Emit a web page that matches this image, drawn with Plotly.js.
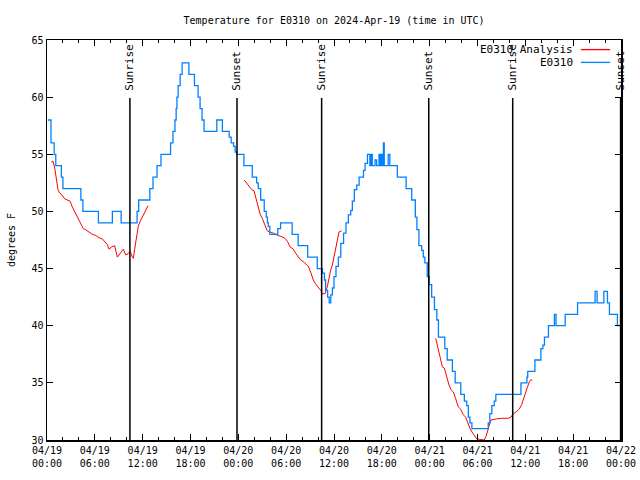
<!DOCTYPE html>
<html>
<head>
<meta charset="utf-8">
<script src="https://cdn.plot.ly/plotly-3.0.1.min.js"></script>
<style>html,body{margin:0;padding:0;background:#fff;}#chart{width:640px;height:480px;}</style>
</head>
<body>
<div id="chart"></div>
<script>
// Hours since 2024-04-19 00:00 UTC
const startDay = Date.UTC(2024, 3, 19);

// Observed station E0310 (stepped readings)
const obsHours = [0.1,0.5,0.9,1.1,1.8,2.0,4.25,4.5,6.45,8.2,9.3,11.3,11.5,12.9,13.3,13.8,14.3,15.5,15.8,16.05,16.2,16.3,16.45,16.7,16.95,17.8,18.5,18.95,19.2,19.45,19.7,21.3,22.0,22.85,23.1,23.4,23.6,23.8,
  24.7,25.75,26.3,26.5,26.8,27.25,27.5,27.65,27.75,27.95,28.95,29.3,30.75,31.5,32.7,33.9,34.55,34.8,34.95,35.2,35.4,35.6,35.8,36.0,36.25,36.55,36.85,37.2,37.5,37.8,38.1,38.3,38.55,38.85,39.15,39.7,39.9,
  40.2,40.5,40.65,40.8,41.15,41.35,41.65,41.8,41.9,42.05,42.2,42.3,42.8,43.0,43.95,45.05,45.75,46.2,46.4,46.65,47.0,47.2,47.4,47.7,47.95,
  48.25,48.6,48.9,49.1,49.9,50.2,50.85,51.2,51.9,52.35,52.65,52.85,53.05,53.3,55.35,55.55,55.8,56.1,56.3,59.45,60.2,60.3,61.2,61.95,62.2,62.4,62.9,63.65,63.85,65.0,66.55,68.75,69.0,69.85,70.3,70.55,71.55,72.0];
const obsTemps = [58,56,55,54,53,52,51,50,49,50,49,50,51,52,53,54,55,56,57,58,59,60,61,62,63,62,61,60,59,58,57,58,57,56.5,56,55.7,55.2,55,
  54,53,52.5,52,51,50,49.5,49,48.7,48,48.5,49,48,47,46,45,44.6,44,43.1,42.5,42,42.7,43.3,44.3,45.2,46,47.2,48.1,49,49.7,50.1,50.9,51.9,52.3,53,53.6,54.2,
  55,54,55,54,54.5,54,55,54,55,54,56,54,55,54,53,52,51,49.5,48.4,47,46.6,46,45.5,44.3,43.6,
  42.5,41.4,40.5,39,38,37,36,35,34,33.4,33,32,31.5,31,31.5,32.3,33,33.4,34,35,35.5,36,37,38,38.3,39,40,41,40,41,42,43,42,43,42,41,40,40];

// Analysis (three 12-hour runs; null separates them)
const anaHours = [0.54,0.75,0.97,1.17,1.38,1.59,1.92,2.22,2.55,2.89,3.17,3.47,3.8,4.23,4.55,4.85,5.27,5.68,6.11,6.52,6.94,7.24,7.56,7.78,8.12,8.49,8.82,9.16,9.57,9.87,10.16,10.41,10.57,10.7,10.83,11.0,11.25,11.45,11.67,11.95,12.17,12.67,
  18.0,
  24.75,25.05,25.34,25.68,25.97,26.18,26.43,26.72,27.0,27.35,27.63,27.97,28.39,28.94,29.44,29.85,30.19,30.48,30.9,31.23,31.52,31.82,32.15,32.49,32.78,33.12,33.4,33.7,34.03,34.33,34.53,34.87,35.16,35.37,35.59,35.79,36.0,36.21,36.41,36.63,36.97,
  42.0,
  48.76,49.08,49.29,49.59,49.84,50.14,50.43,50.68,50.97,51.27,51.59,51.89,52.22,52.52,52.77,53.06,53.4,53.69,53.9,54.32,54.85,55.07,55.28,55.48,55.69,55.98,56.41,57.03,57.86,58.2,58.49,58.91,59.24,59.54,59.83,60.08,60.3,60.5,60.67,60.87];
const anaTemps = [54.3,54.4,53.8,53.0,51.9,51.6,51.4,51.1,51.0,50.9,50.4,50.0,49.5,49.0,48.5,48.4,48.2,48.0,47.9,47.7,47.6,47.35,47.1,46.7,46.9,47.0,46.0,46.3,46.7,46.2,46.3,46.5,46.3,46.0,45.9,46.7,47.8,48.7,49.1,49.5,49.7,50.5,
  null,
  52.75,52.5,52.2,51.9,51.8,51.3,50.6,49.8,49.4,48.7,48.3,48.2,48.1,47.9,47.8,47.65,47.35,46.9,46.7,46.3,46.0,45.75,45.6,45.4,45.2,44.6,44.0,43.65,43.4,43.1,42.8,42.8,43.4,44.3,44.9,45.3,46.0,46.9,47.65,48.2,48.3,
  null,
  38.9,37.9,37.2,36.4,36.3,35.5,34.8,34.4,34.2,33.6,32.9,32.7,32.2,32.0,31.5,31.0,30.6,30.3,30.1,30.05,30.0,30.3,30.9,31.3,31.75,31.8,31.85,31.9,31.9,32.0,32.3,32.5,32.7,33.1,33.65,34.1,34.7,35.1,35.25,35.25];

// Sun events
const sunLabels = ["Sunrise","Sunset","Sunrise","Sunset","Sunrise","Sunset"];
const sunTimes = ["2024-04-19 10:24","2024-04-19 23:50","2024-04-20 10:27","2024-04-20 23:53","2024-04-21 10:25","2024-04-21 23:57"];

const xTickVals = ["2024-04-19 00:00","2024-04-19 06:00","2024-04-19 12:00","2024-04-19 18:00","2024-04-20 00:00","2024-04-20 06:00","2024-04-20 12:00","2024-04-20 18:00","2024-04-21 00:00","2024-04-21 06:00","2024-04-21 12:00","2024-04-21 18:00","2024-04-22 00:00"];

const seriesNames = ["E0310 Analysis", "E0310"];
const seriesColors = ["#ff0000", "#0080ff"];

function toDate(h) {
  return new Date(startDay + h * 3600000).toISOString().slice(0, 19).replace('T', ' ');
}

const FONT = "DejaVu Sans Mono, Liberation Mono, monospace";

const traces = [
  {
    name: seriesNames[0],
    x: anaHours.map(toDate),
    y: anaTemps,
    mode: "lines",
    connectgaps: false,
    line: {color: seriesColors[0], width: 1},
    type: "scatter"
  },
  {
    name: seriesNames[1],
    x: obsHours.map(toDate),
    y: obsTemps,
    mode: "lines",
    line: {color: seriesColors[1], width: 1.3, shape: "hv"},
    type: "scatter"
  }
];

const shapes = sunTimes.map(t => ({
  type: "line", xref: "x", yref: "paper",
  x0: t, x1: t, y0: 0, y1: 0.855,
  line: {color: "#000", width: 1.5}
}));

const annotations = sunTimes.map((t, i) => ({
  x: t, xref: "x", y: 0.868, yref: "paper",
  text: sunLabels[i], textangle: -90,
  xanchor: "center", yanchor: "bottom",
  showarrow: false,
  font: {family: FONT, size: 11, color: "#000"}
}));

// gnuplot-style key: text right-aligned, line sample to its right
const keyY = [0.976, 0.944];
seriesNames.forEach((n, i) => {
  annotations.push({
    x: 0.919, xref: "paper", y: keyY[i], yref: "paper",
    text: n, xanchor: "right", yanchor: "middle", showarrow: false,
    font: {family: FONT, size: 11, color: "#000"}
  });
  shapes.push({
    type: "line", xref: "paper", yref: "paper",
    x0: 0.930, x1: 0.981, y0: keyY[i], y1: keyY[i],
    line: {color: seriesColors[i], width: 1.3}
  });
});

const layout = {
  width: 640, height: 480,
  margin: {l: 47, r: 19, t: 40, b: 40},
  paper_bgcolor: "#fff", plot_bgcolor: "#fff",
  font: {family: FONT, size: 10, color: "#000"},
  title: {text: "Temperature for E0310 on 2024-Apr-19 (time in UTC)", x: 0.522, xref: "container", y: 0.957, yref: "container", yanchor: "middle", font: {family: FONT, size: 10, color: "#000"}},
  xaxis: {
    type: "date",
    range: ["2024-04-19 00:00", "2024-04-22 00:00"],
    tickvals: xTickVals,
    tickformat: "%m/%d<br>%H:%M",
    ticks: "inside", ticklen: 6, tickcolor: "#000", tickwidth: 1,
    minor: {dtick: 7200000, ticks: "inside", ticklen: 3, tickcolor: "#000"},
    showline: true, linecolor: "#000", linewidth: 1.5, mirror: "ticks",
    showgrid: false, zeroline: false,
    tickfont: {family: FONT, size: 10, color: "#000"}
  },
  yaxis: {
    range: [30, 65],
    dtick: 5,
    ticks: "inside", ticklen: 6, tickcolor: "#000",
    showline: true, linecolor: "#000", linewidth: 1.5, mirror: "ticks",
    showgrid: false, zeroline: false,
    title: {text: "degrees F", standoff: 14, font: {family: FONT, size: 10, color: "#000"}},
    tickfont: {family: FONT, size: 10, color: "#000"}
  },
  showlegend: false,
  shapes: shapes,
  annotations: annotations
};

Plotly.newPlot("chart", traces, layout, {displayModeBar: false, staticPlot: true});
</script>
</body>
</html>
